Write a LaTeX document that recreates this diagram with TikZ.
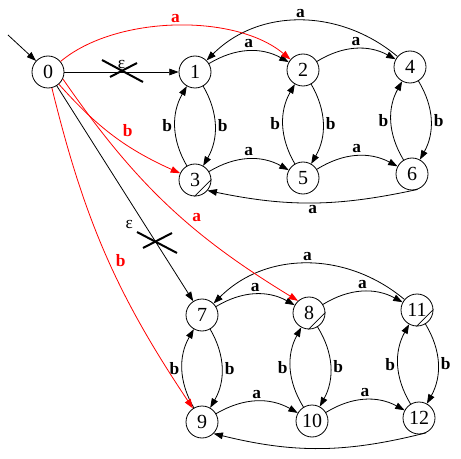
\documentclass[tikz,border=0pt]{standalone}
\usepackage{fontspec}
\setmainfont{Liberation Serif}
\usetikzlibrary{arrows.meta}
\begin{document}
\begin{tikzpicture}[x=0.75pt,y=0.75pt,
  line width=0.6pt,>={Triangle[length=7pt,width=5pt]},
  main node/.style={circle,draw,minimum size=24pt,inner sep=0pt,font=\fontsize{15}{15}\selectfont},
  lbl/.style={font=\fontsize{13}{13}\selectfont\bfseries,inner sep=2pt},
  eps/.style={font=\fontsize{13}{13}\selectfont},
  cross/.style={line width=1.5pt}]
  \useasboundingbox (0,0) rectangle (461,458);

  \node[main node] (0) at (48,386) {0};
  \node[main node] (1) at (195,386) {1};
  \node[main node] (2) at (303,388) {2};
  \node[main node] (4) at (410,391) {4};
  \node[main node] (3) at (195,278) {3};
  \node[main node] (5) at (303,280) {5};
  \node[main node] (6) at (412,284) {6};
  \node[main node] (7) at (202,143) {7};
  \node[main node] (8) at (309,145) {8};
  \node[main node] (11) at (417,148) {11};
  \node[main node] (9) at (202,36) {9};
  \node[main node] (10) at (312,37) {10};
  \node[main node] (12) at (419,40) {12};
  \coordinate (start) at (8,423);
  \coordinate (x1) at (123,387);
  \coordinate (x2) at (157,216);

  % final states
  \foreach \n in {3,8,11}
    \draw (\n.-92) -- (\n.2);

  \draw[->] (start) -- (0);

  \path[->,auto,every node/.style=lbl]
  (0) edge node[eps]{ε} (1)
  (0) edge node[eps,swap,pos=0.6,inner sep=4pt]{ε} (7)

  (1) edge[bend left=30] node{a} (2)
  (2) edge[bend left=30] node{a} (4)
  (4) edge[out=140,in=45] node[swap]{a} (1)
  (1) edge[bend left=30] node{b} (3)
  (3) edge[bend left=30] node{b} (1)
  (2) edge[bend left=30] node{b} (5)
  (5) edge[bend left=30] node{b} (2)
  (4) edge[bend left=30] node{b} (6)
  (6) edge[bend left=30] node{b} (4)
  (3) edge[bend left=30] node{a} (5)
  (5) edge[bend left=30] node{a} (6)
  (6.-70) edge[bend left=12] node{a} (3.-40)

  (7) edge[bend left=30] node{a} (8)
  (8) edge[bend left=30] node{a} (11)
  (11) edge[out=140,in=45] node[swap]{a} (7)
  (7) edge[bend left=30] node{b} (9)
  (9) edge[bend left=30] node{b} (7)
  (8) edge[bend left=30] node{b} (10)
  (10) edge[bend left=30] node{b} (8)
  (11) edge[bend left=30] node{b} (12)
  (12) edge[bend left=30] node{b} (11)
  (9) edge[bend left=30] node{a} (10)
  (10) edge[bend left=30] node{a} (12)
  (12.-65) edge[bend left=14] (9.-45);

  \path[->,red,auto,every node/.style=lbl]
  (0) edge[out=40,in=140,looseness=0.8] node{a} (2)
  (0) edge[bend right=12] node[pos=0.55]{b} (3)
  (0.-25) edge[bend right=12] node[pos=0.6]{a} (8.132)
  (0) edge[bend right=10] node[pos=0.55]{b} (9);

  % crossed-out epsilon moves
  \draw[cross] ([shift={(-21,11)}]x1) -- ([shift={(20,-11)}]x1);
  \draw[cross] ([shift={(-13,-6)}]x1) -- ([shift={(14,8)}]x1);
  \draw[cross] ([shift={(-20,10)}]x2) -- ([shift={(20,-11)}]x2);
  \draw[cross] ([shift={(-14,-6)}]x2) -- ([shift={(15,9)}]x2);
\end{tikzpicture}
\end{document}
